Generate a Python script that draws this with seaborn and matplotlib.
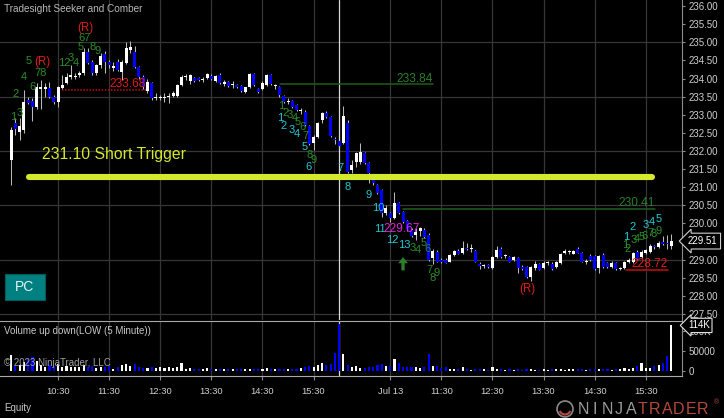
import numpy as np
import pandas as pd
import seaborn as sns
import matplotlib.pyplot as plt
import matplotlib.transforms as mtransforms
from matplotlib.patches import Rectangle, Circle, Arc

# 5 minute bars, Jul 12 session then Jul 13 session
day1_open = [231.75, 232.78, 232.52, 232.58, 233.42, 233.38, 233.21, 233.71, 233.72, 233.74,
             233.50, 233.35, 233.74, 233.88, 234.05, 234.04, 234.10, 234.15, 234.73, 234.45,
             234.15, 234.37, 234.68, 234.45, 234.30, 234.45, 234.18, 234.43, 234.78, 234.73,
             234.32, 234.04, 233.65, 233.87, 233.47, 233.47, 233.45, 233.48, 233.52, 233.52,
             233.82, 234.04, 233.93, 234.01, 234.01, 233.97, 234.01, 234.07, 233.93, 234.10,
             233.85, 233.90, 233.82, 233.83, 233.79, 233.63, 233.76, 234.12, 233.71, 233.71,
             233.82, 234.10, 233.80, 233.76, 233.52, 233.35, 233.38, 233.27, 233.10, 233.08,
             232.69, 232.22, 232.38, 232.85, 233.05, 232.94, 232.33, 232.27]
day1_high = [232.65, 232.90, 232.91, 233.68, 233.50, 233.45, 233.87, 233.97, 233.87, 233.90,
             233.55, 233.80, 234.10, 234.15, 234.37, 234.15, 234.20, 234.85, 234.85, 234.50,
             234.40, 234.70, 234.75, 234.50, 234.45, 234.55, 234.50, 235.00, 235.05, 234.90,
             234.35, 234.10, 234.00, 233.90, 233.60, 233.55, 233.60, 233.60, 233.65, 233.85,
             234.10, 234.12, 234.12, 234.05, 234.05, 234.05, 234.15, 234.12, 234.10, 234.15,
             233.96, 233.93, 233.92, 233.86, 233.82, 233.78, 234.15, 234.15, 233.75, 233.92,
             234.13, 234.13, 233.84, 233.80, 233.55, 233.45, 233.40, 233.30, 233.20, 233.12,
             232.72, 232.45, 232.80, 233.08, 233.10, 232.97, 232.38, 232.30]
day1_low = [231.06, 232.45, 232.30, 232.50, 233.30, 232.83, 233.15, 233.15, 233.50, 233.45,
            233.30, 233.21, 233.70, 233.85, 234.00, 233.98, 234.05, 234.10, 234.40, 234.10,
            234.10, 234.30, 234.15, 234.30, 234.20, 234.20, 233.96, 234.40, 234.70, 234.30,
            234.00, 233.70, 233.60, 233.40, 233.40, 233.40, 233.35, 233.32, 233.48, 233.50,
            233.80, 233.95, 233.85, 233.90, 233.92, 233.90, 233.98, 233.95, 233.90, 233.85,
            233.80, 233.76, 233.74, 233.74, 233.63, 233.60, 233.74, 233.80, 233.60, 233.68,
            233.80, 233.82, 233.72, 233.50, 233.32, 233.30, 233.18, 233.10, 233.02, 232.70,
            232.16, 232.03, 232.35, 232.77, 232.90, 232.38, 232.20, 232.10]
day1_close = [232.58, 232.61, 232.69, 233.35, 233.32, 233.21, 233.76, 233.77, 233.78, 233.49,
              233.35, 233.76, 233.82, 234.04, 234.10, 234.06, 234.15, 234.73, 234.43, 234.15,
              234.37, 234.62, 234.45, 234.37, 234.35, 234.23, 234.45, 234.84, 234.87, 234.32,
              234.04, 233.76, 233.90, 233.46, 233.50, 233.49, 233.50, 233.52, 233.60, 233.82,
              234.04, 234.07, 234.10, 233.93, 233.95, 233.98, 234.12, 233.99, 234.07, 233.88,
              233.90, 233.80, 233.83, 233.77, 233.66, 233.76, 234.12, 233.82, 233.63, 233.88,
              234.10, 233.85, 233.82, 233.54, 233.35, 233.38, 233.21, 233.13, 233.12, 232.72,
              232.18, 232.39, 232.77, 233.05, 232.94, 232.41, 232.30, 232.14]
day1_volume = [39000, 12000, 16000, 22000, 30000, 36000, 24000, 16000, 10000, 14000,
               12000, 18000, 10000, 12000, 10000, 9000, 9000, 14000, 10000, 12000,
               8000, 10000, 9000, 12000, 6000, 10000, 14000, 18000, 12000, 18000,
               9000, 7000, 8000, 10000, 8000, 9000, 8000, 10000, 7000, 10000,
               20000, 6000, 8000, 5000, 6000, 4000, 7000, 6000, 6000, 5000,
               6000, 4000, 5000, 4000, 5000, 6000, 6000, 5000, 4000, 4000,
               7000, 6000, 4000, 5000, 5000, 5000, 6000, 5000, 7000, 10000,
               12000, 10000, 15000, 20000, 14000, 18000, 45000, 117000]

day2_open = [232.22, 232.77, 231.47, 231.70, 231.70, 231.94, 231.67, 231.20, 231.06, 230.92,
             230.29, 230.29, 230.15, 230.56, 230.32, 230.07, 229.82, 229.68, 229.80, 229.82,
             229.68, 229.05, 229.21, 228.99, 229.00, 228.94, 229.13, 229.24, 229.19, 229.32,
             229.29, 229.24, 228.88, 228.82, 228.85, 228.77, 229.08, 229.30, 229.10, 229.08,
             228.99, 229.05, 228.80, 228.80, 228.52, 228.77, 228.88, 228.77, 228.91, 228.88,
             228.80, 228.91, 229.19, 229.20, 229.16, 229.30, 229.19, 228.93, 229.10, 229.10,
             228.77, 229.13, 228.91, 228.80, 228.91, 228.75, 228.77, 228.94, 228.94, 229.21,
             229.08, 229.19, 229.21, 229.38, 229.35, 229.49, 229.47, 229.38]
day2_high = [233.24, 232.85, 231.75, 231.97, 232.22, 231.98, 231.70, 231.28, 231.10, 230.95,
             230.50, 230.32, 230.87, 230.60, 230.35, 230.10, 229.87, 229.88, 229.90, 229.87,
             229.72, 229.30, 229.26, 229.05, 229.05, 229.16, 229.27, 229.30, 229.50, 229.45,
             229.42, 229.27, 228.94, 228.87, 228.88, 229.10, 229.38, 229.35, 229.15, 229.10,
             229.10, 229.08, 228.84, 228.83, 228.82, 228.95, 228.90, 228.95, 228.96, 228.92,
             228.96, 229.18, 229.30, 229.25, 229.27, 229.36, 229.22, 229.02, 229.14, 229.13,
             229.12, 229.17, 228.94, 228.95, 228.94, 228.80, 228.97, 229.05, 229.22, 229.25,
             229.25, 229.30, 229.42, 229.40, 229.50, 229.65, 229.68, 229.70]
day2_low = [232.20, 231.40, 231.39, 231.55, 231.65, 231.65, 231.12, 231.05, 230.82, 230.18,
            230.22, 230.05, 230.12, 230.26, 230.02, 229.80, 229.62, 229.55, 229.65, 229.60,
            228.97, 228.88, 228.92, 228.90, 228.90, 228.92, 229.10, 229.14, 229.15, 229.25,
            229.20, 228.92, 228.75, 228.76, 228.77, 228.74, 229.05, 229.05, 229.05, 228.92,
            228.96, 228.63, 228.72, 228.50, 228.41, 228.70, 228.70, 228.74, 228.86, 228.72,
            228.78, 228.88, 229.14, 229.15, 229.14, 229.18, 228.92, 228.88, 228.97, 228.72,
            228.63, 228.78, 228.78, 228.78, 228.72, 228.70, 228.74, 228.90, 228.90, 229.00,
            229.05, 229.15, 229.18, 229.30, 229.32, 229.40, 229.30, 229.30]
day2_close = [232.96, 231.42, 231.61, 231.94, 231.97, 231.67, 231.39, 231.12, 230.84, 230.29,
              230.43, 230.15, 230.56, 230.29, 230.04, 229.82, 229.66, 229.76, 229.87, 229.63,
              228.99, 229.24, 228.94, 228.94, 228.91, 229.13, 229.24, 229.16, 229.32, 229.29,
              229.31, 228.94, 228.83, 228.84, 228.80, 229.08, 229.27, 229.08, 229.12, 228.94,
              229.08, 228.77, 228.75, 228.52, 228.80, 228.88, 228.72, 228.91, 228.93, 228.74,
              228.94, 229.16, 229.24, 229.21, 229.24, 229.19, 228.94, 228.96, 228.99, 228.74,
              229.10, 228.80, 228.80, 228.91, 228.74, 228.77, 228.94, 229.00, 229.19, 229.02,
              229.21, 229.27, 229.38, 229.35, 229.46, 229.44, 229.42, 229.51]
day2_volume = [42000, 15000, 10000, 12000, 8000, 7000, 10000, 9000, 15000, 17000,
               12000, 12000, 30000, 20000, 10000, 10000, 9000, 10000, 8000, 10000,
               42000, 12000, 12000, 8000, 10000, 6000, 6000, 4000, 9000, 4000,
               3000, 5000, 4000, 6000, 3000, 9000, 6000, 4000, 3000, 4000,
               3000, 5000, 3000, 4000, 5000, 3000, 3000, 4000, 3000, 4000,
               5000, 5000, 3000, 4000, 5000, 4000, 5000, 3000, 4000, 5000,
               6000, 4000, 4000, 3000, 4000, 6000, 7000, 5000, 8000, 13000,
               20000, 8000, 8000, 12000, 15000, 20000, 37000, 114000]

time_ticks = [12, 24, 36, 48, 60, 72, 90, 102, 114, 126, 138, 150]
time_labels = ["10:30", "11:30", "12:30", "13:30", "14:30", "15:30",
               "Jul 13", "11:30", "12:30", "13:30", "14:30", "15:30"]
session_break = 78
last_price = 229.51
last_volume = 114000

trigger_price = 231.28
trigger_span = (5.2, 151.4)
trigger_text = "231.10 Short Trigger"

# (price, first bar, last bar, kind)
levels = [(233.84, 64.1, 100.0, "target"), (233.68, 13.0, 32.7, "stop"),
          (230.41, 93.0, 152.1, "target"), (228.72, 145.3, 155.2, "stop")]

green_counts = [(1.4, 232.94, "1"), (2.1, 233.57, "2"), (3.1, 233.05, "3"), (4.0, 234.04, "4"),
                (5.2, 234.48, "5"), (5.9, 233.76, "6"), (8.0, 234.15, "78"), (13.6, 234.43, "12"),
                (15.0, 234.57, "3"), (16.2, 234.43, "4"), (17.2, 234.87, "5"), (18.3, 235.12, "67"),
                (20.2, 234.87, "8"), (21.2, 234.76, "9"),
                (64.3, 233.24, "1"), (65.5, 233.05, "2"), (66.5, 232.99, "3"), (67.6, 232.91, "4"),
                (68.3, 232.80, "5"), (69.3, 232.66, "6"), (70.2, 232.41, "7"), (71.1, 231.89, "8"),
                (72.1, 231.75, "9"),
                (95.3, 229.32, "3"), (96.5, 229.27, "4"), (97.9, 229.46, "5"), (98.8, 229.29, "6"),
                (99.1, 228.72, "7"), (100.0, 228.49, "8"), (100.9, 228.63, "9"),
                (145.1, 229.41, "1"), (145.8, 229.29, "2"), (147.2, 229.54, "3"), (147.9, 229.57, "4"),
                (149.1, 229.63, "5"), (149.8, 229.65, "6"), (151.0, 229.74, "7"), (151.9, 229.71, "8"),
                (153.1, 229.79, "9")]
cyan_counts = [(64.1, 232.91, "1"), (65.0, 232.69, "2"), (66.9, 232.58, "3"), (68.1, 232.47, "4"),
               (70.0, 232.11, "5"), (70.9, 231.56, "6"), (78.2, 231.53, "7"), (80.1, 231.01, "8"),
               (85.0, 230.78, "9"), (87.1, 230.43, "10"), (87.6, 229.85, "11"), (90.4, 229.54, "12"),
               (93.2, 229.41, "13"),
               (145.3, 229.63, "1"), (147.0, 229.90, "2"), (150.0, 229.96, "3"), (151.4, 230.04, "4"),
               (153.1, 230.12, "5")]
red_marks = [(8.2, 234.45, "(R)"), (18.3, 235.39, "(R)"), (122.1, 228.19, "(R)")]
magenta_marks = [(92.6, 229.85, "229.67")]
up_arrow = (93, 228.70, 229.07)

bars = pd.DataFrame({
    "open": day1_open + day2_open,
    "high": day1_high + day2_high,
    "low": day1_low + day2_low,
    "close": day1_close + day2_close,
    "volume": day1_volume + day2_volume,
})
bars["bar"] = np.arange(1, len(bars) + 1)
bars["side"] = np.where(bars["close"] >= bars["open"], "up", "down")

sns.set_theme(style="dark", rc={"axes.facecolor": "black", "figure.facecolor": "black"})
plt.rcParams["font.family"] = ["Liberation Sans", "DejaVu Sans"]
narrow = ["Liberation Sans Narrow", "Liberation Sans", "DejaVu Sans"]

W, H = 724, 418
UP, DOWN = "#ffffff", "#0000ff"
GRID = "#363636"
LABEL = "#cfcfcf"
GREEN, DKGREEN, CYAN, RED = "#2a8c2a", "#1c5e1c", "#22c8d4", "#e41a1a"
YELLOW = "#d4e82c"


def box(x0, y0, x1, y1):
    return [x0 / W, 1 - y1 / H, (x1 - x0) / W, (y1 - y0) / H]


fig = plt.figure(figsize=(7.24, 4.18), dpi=100)
ax = fig.add_axes(box(0, 0, 682, 320))
axv = fig.add_axes(box(0, 321, 682, 376))
xlim = (-1.62, 158.5)

# price panel
for y in np.arange(227.5, 236.0, 1.5):
    ax.axhline(y, color=GRID, lw=0.9, zorder=0)
for a in (ax, axv):
    for t in time_ticks:
        a.axvline(t, color=GRID, lw=0.9, zorder=0)
    a.axvline(session_break, color="#d8d8d8", lw=0.9, zorder=1)

ax.vlines(bars["bar"], bars["low"], bars["high"], color="#b8b8b8", lw=0.75, zorder=3)
body_lo = np.minimum(bars["open"], bars["close"])
body_h = np.maximum((bars["close"] - bars["open"]).abs(), 0.03)
ax.bar(bars["bar"], body_h, bottom=body_lo, width=0.7,
       color=np.where(bars["side"] == "up", UP, DOWN), edgecolor="none", zorder=4)

for price, x0, x1, kind in levels:
    if kind == "target":
        ax.plot([x0, x1], [price, price], color=DKGREEN, lw=1.1, zorder=5)
        col = "#2b7d2b"
    else:
        ls = (0, (1, 1)) if x1 < session_break else "-"
        ax.plot([x0, x1], [price, price], color="#c41010", lw=1.1, ls=ls, zorder=5)
        col = RED
    ax.text(x1, price + 0.16, f"{price:.2f}", color=col, ha="right", va="center",
            fontsize=8.6, family=narrow, zorder=7)

ax.plot(trigger_span, [trigger_price, trigger_price], color=YELLOW, lw=4.4,
        solid_capstyle="round", zorder=8)
ax.text(8.2, trigger_price + 0.61, trigger_text, color=YELLOW, fontsize=11.3,
        ha="left", va="center", zorder=8)

for k, p, s in green_counts:
    ax.text(k, p, s, color=GREEN, fontsize=8, ha="center", va="center", family=narrow, zorder=6)
for k, p, s in cyan_counts:
    ax.text(k, p, s, color=CYAN, fontsize=8, ha="center", va="center", family=narrow, zorder=6)
for k, p, s in red_marks:
    ax.text(k, p, s, color=RED, fontsize=8.3, ha="center", va="center", zorder=6)
for k, p, s in magenta_marks:
    ax.text(k, p, s, color="#e424d8", fontsize=8.6, ha="center", va="center", family=narrow, zorder=6)
ax.annotate("", xy=(up_arrow[0], up_arrow[2]), xytext=(up_arrow[0], up_arrow[1]),
            arrowprops=dict(width=2.4, headwidth=7, headlength=4.5, color="#2e7d2e", lw=0), zorder=6)

ax.set_xlim(*xlim)
ax.set_ylim(227.33, 236.17)
price_ticks = np.arange(227.5, 236.01, 0.5)
# the 229.50 label sits under the last-price marker
ax.set_yticks(price_ticks, ["" if abs(v - 229.5) < 1e-6 else f"{v:.2f}" for v in price_ticks])
ax.set_xticks([])

# volume panel
sns.barplot(data=bars, x="bar", y="volume", hue="side", palette={"up": UP, "down": DOWN},
            native_scale=True, width=0.5, dodge=False, legend=False, errorbar=None,
            saturation=1, linewidth=0, ax=axv, zorder=3)
axv.set_xlim(*xlim)
axv.set_ylim(-12500, 125000)
axv.set_yticks([0, 50000, 100000], ["0", "50000", "100K"])
axv.set_xticks(time_ticks, time_labels)
axv.set_xlabel("")
axv.set_ylabel("")

for a in (ax, axv):
    a.set_facecolor("black")
    a.grid(False)
    for s in a.spines.values():
        s.set_visible(False)
    a.spines["right"].set_visible(True)
    a.spines["right"].set_color("#8c8c8c")
    a.spines["right"].set_linewidth(0.8)
    a.yaxis.tick_right()
    a.tick_params(axis="y", colors="#8c8c8c", labelcolor=LABEL, length=2.3, width=0.8,
                  labelsize=7, pad=2.2, left=False, right=True)
for side in ("top", "bottom"):
    axv.spines[side].set_visible(True)
    axv.spines[side].set_color("#a8a8a8")
    axv.spines[side].set_linewidth(0.8)
axv.tick_params(axis="x", colors="#8c8c8c", labelcolor=LABEL, length=3, width=0.8,
                labelsize=6.8, pad=5, bottom=True)

# last value markers on the price scales
blend = mtransforms.blended_transform_factory(ax.transAxes, ax.transData)
ax.text(1.0 + 6 / 682, last_price, f"{last_price:.2f}", transform=blend, color="white",
        fontsize=7, ha="left", va="center", clip_on=False, zorder=20,
        bbox=dict(boxstyle="larrow,pad=0.3", fc="black", ec="#d0d0d0", lw=0.8))
blendv = mtransforms.blended_transform_factory(axv.transAxes, axv.transData)
axv.text(1.0 + 6 / 682, last_volume, f"{last_volume // 1000}K", transform=blendv, color="white",
         fontsize=7, ha="left", va="center", clip_on=False, zorder=20,
         bbox=dict(boxstyle="larrow,pad=0.22", fc="black", ec="#e0e0e0", lw=0.8))

# panel captions and chart furniture
fig.text(4 / W, 1 - 9 / H, "Tradesight Seeker and Comber", color="#b8b8b8", fontsize=7.2, va="center")
fig.text(4 / W, 1 - 331 / H, "Volume up down(LOW (5 Minute))", color="#c8c8c8", fontsize=7, va="center")
fig.text(4 / W, 1 - 363 / H, "\u00a9 2023 NinjaTrader, LLC", color="#a0a0a0", fontsize=7, va="center")
fig.text(4 / W, 1 - 408 / H, "Equity", color="#c8c8c8", fontsize=7, va="center")

fig.add_artist(Rectangle((5 / W, 1 - 300 / H), 40 / W, 26 / H, transform=fig.transFigure,
                         fc="#008080", ec="#005c5c", lw=0.8))
fig.text(25 / W, 1 - 287 / H, "PC", color="#e2f4f4", fontsize=10, ha="center", va="center")

ident = mtransforms.IdentityTransform()
fig.add_artist(Circle((565, H - 409), 8, transform=ident, fc="none", ec="#8a8a8a", lw=1.2))
fig.add_artist(Arc((565, H - 409), 11, 11, theta1=200, theta2=340, transform=ident, ec="#b5483c", lw=1.6))
for i, ch in enumerate("NINJATRADER"):
    fig.text((583 + 12 * i) / W, 1 - 409 / H, ch, color="#9a9a9a" if i < 5 else "#b5483c",
             fontsize=11.5, ha="center", va="center")
fig.text(717 / W, 1 - 403 / H, "\u00ae", color="#b5483c", fontsize=5, ha="center", va="center")

fig.savefig("out.png", dpi=100, facecolor="black")
